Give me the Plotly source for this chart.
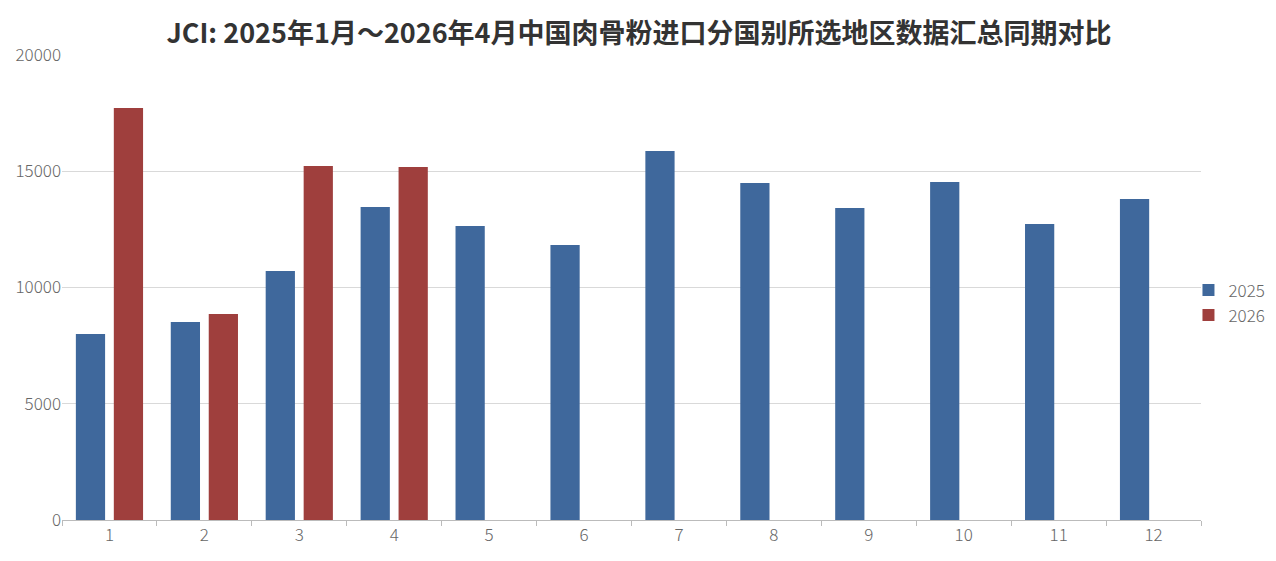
import plotly.graph_objects as go

# 月份与两年数据
months = ["1", "2", "3", "4", "5", "6", "7", "8", "9", "10", "11", "12"]
vals_2025 = [8000, 8516, 10710, 13462, 12645, 11828, 15871, 14495, 13419, 14538, 12731, 13806]
vals_2026 = [17720, 8860, 15225, 15182, None, None, None, None, None, None, None, None]

title_text = "JCI: 2025年1月～2026年4月中国肉骨粉进口分国别所选地区数据汇总同期对比"
font_name = "Noto Sans CJK SC"

fig = go.Figure()
fig.add_trace(go.Bar(x=months, y=vals_2025, name="2025",
                     marker=dict(color="#3F689C", line=dict(width=0))))
fig.add_trace(go.Bar(x=months, y=vals_2026, name="2026",
                     marker=dict(color="#9F3F3D", line=dict(width=0))))

# the page body adds an 8px offset, so margins are shifted a bit
fig.update_layout(
    width=1276, height=561,
    barmode="group", bargap=0.2, bargroupgap=0.23,
    paper_bgcolor="white", plot_bgcolor="white",
    margin=dict(l=54, r=83, t=47, b=49),
    font=dict(family=font_name, color="#666666", size=17),
    title=dict(text=title_text, x=0.4945, xanchor="center", y=0.955, yanchor="middle",
               font=dict(family=font_name, size=27, color="#333333", weight="bold")),
    legend=dict(x=0.989, xanchor="left", y=0.467, yanchor="middle",
                bgcolor="rgba(0,0,0,0)",
                font=dict(size=17, color="#666666", weight=300)),
    hovermode="x",
)

fig.update_xaxes(
    type="category", showgrid=False, showline=True, linecolor="#BBBBBB", linewidth=1,
    ticks="outside", tickson="boundaries", ticklen=5, tickcolor="#BBBBBB",
    tickfont=dict(size=17, color="#666666", weight=300), automargin=False,
)
fig.update_yaxes(
    range=[0, 20000], dtick=5000, showgrid=True, gridcolor="#D9D9D9", gridwidth=1,
    zeroline=False, showline=False, ticks="", tickformat="d",
    tickfont=dict(size=17, color="#666666", weight=300), automargin=False,
)

fig.write_html("out.html")
